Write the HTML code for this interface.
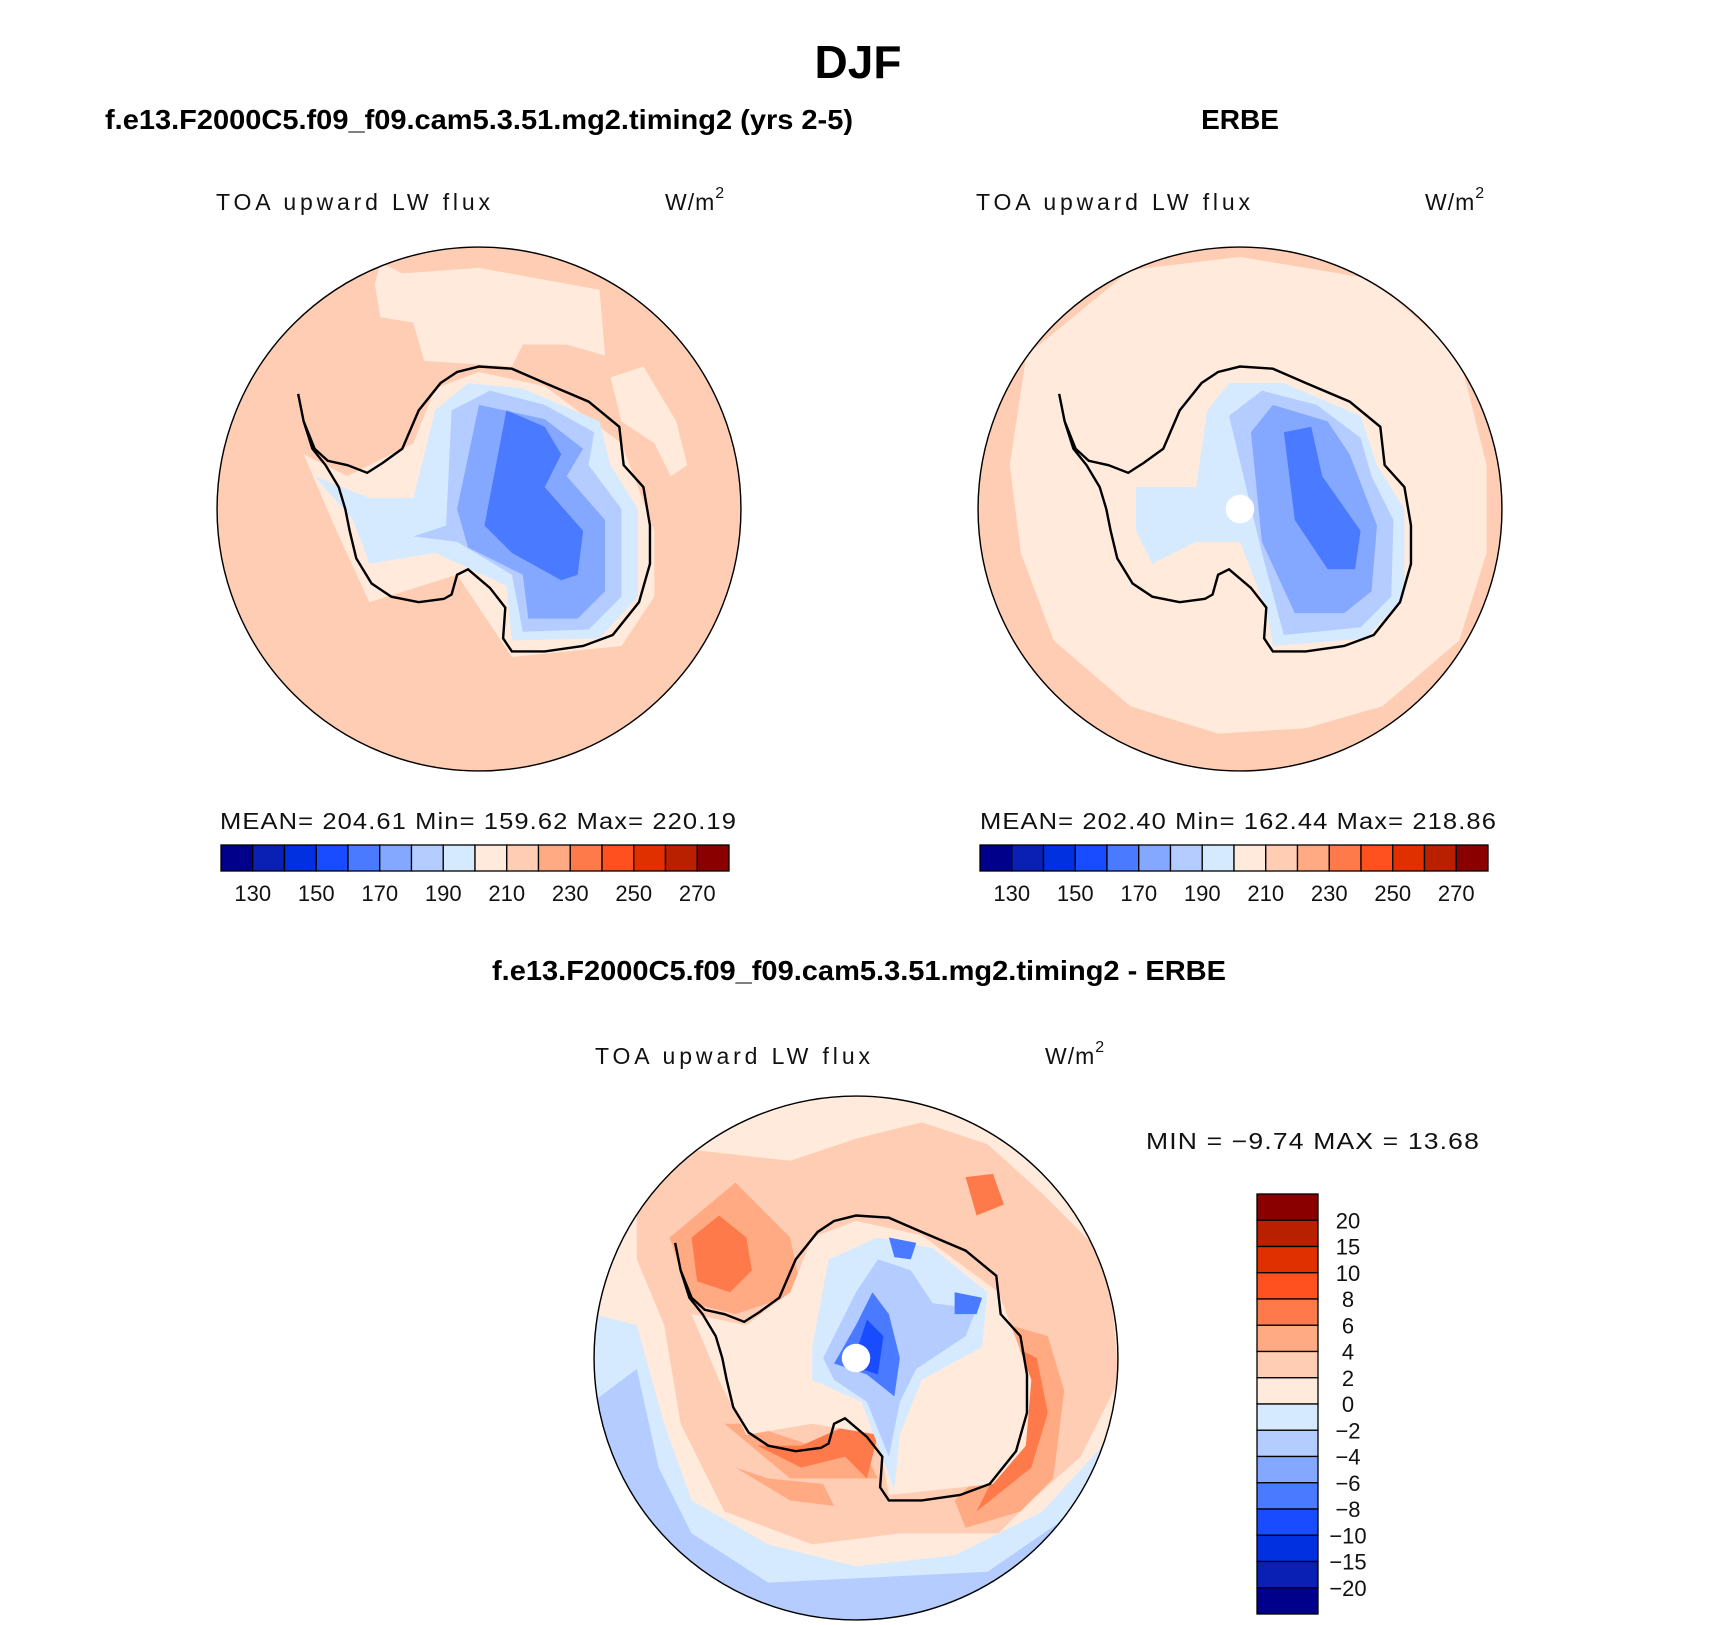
<!DOCTYPE html>
<html><head><meta charset="utf-8"><style>
html,body{margin:0;padding:0;background:#fff;}
svg{display:block;font-family:"Liberation Sans",sans-serif;}
.t{font-weight:bold;fill:#000;}
.s{fill:#111;font-size:23px;letter-spacing:1px;}
</style></head><body>
<svg id="fig" width="1710" height="1625" viewBox="0 0 1710 1625" xmlns="http://www.w3.org/2000/svg">
<defs>
<clipPath id="c1"><circle cx="0" cy="0" r="239"/></clipPath>
</defs>
<text class="t" x="858" y="78" font-size="46" text-anchor="middle">DJF</text>
<text class="t" x="105" y="129" font-size="28" textLength="748" lengthAdjust="spacingAndGlyphs">f.e13.F2000C5.f09_f09.cam5.3.51.mg2.timing2 (yrs 2-5)</text>
<text class="t" x="1240" y="129" font-size="28" text-anchor="middle">ERBE</text>
<text class="t" x="859" y="980" font-size="28" text-anchor="middle" textLength="734" lengthAdjust="spacingAndGlyphs">f.e13.F2000C5.f09_f09.cam5.3.51.mg2.timing2 - ERBE</text>

<text class="s" x="216" y="210" textLength="275">TOA upward LW flux</text>
<text class="s" x="665" y="210" font-size="26">W/m<tspan font-size="16" dy="-12">2</tspan></text>
<text class="s" x="976" y="210" textLength="275">TOA upward LW flux</text>
<text class="s" x="1425" y="210" font-size="26">W/m<tspan font-size="16" dy="-12">2</tspan></text>
<text class="s" x="595" y="1064" textLength="276">TOA upward LW flux</text>
<text class="s" x="1045" y="1064" font-size="26">W/m<tspan font-size="16" dy="-12">2</tspan></text>

<text class="s" x="220" y="829" font-size="21" textLength="517" lengthAdjust="spacingAndGlyphs">MEAN= 204.61   Min= 159.62   Max= 220.19</text>
<text class="s" x="980" y="829" font-size="21" textLength="517" lengthAdjust="spacingAndGlyphs">MEAN= 202.40   Min= 162.44   Max= 218.86</text>
<text class="s" x="1146" y="1149" font-size="21" textLength="334" lengthAdjust="spacingAndGlyphs">MIN =   −9.74 MAX =   13.68</text>

<g id="maps"></g>
<g id="bars"></g>
</svg>
<script>
const absColors=["#00008a","#0a1fb4","#0030e0","#1a4cff","#4a7aff","#84a8ff","#b4ccff","#d6eaff","#ffeadb","#ffcdb4","#ffaa82","#ff7a4a","#ff5020","#e03000","#b82000","#8a0000"];
const absLevels=[130,140,150,160,170,180,190,200,210,220,230,240,250,260,270];
const diffLevels=[20,15,10,8,6,4,2,0,-2,-4,-6,-8,-10,-15,-20];
const NS="http://www.w3.org/2000/svg";
function mk(t,a,p){const e=document.createElementNS(NS,t);for(const k in a)e.setAttribute(k,a[k]);p.appendChild(e);return e;}
const bars=document.getElementById('bars');
function hbar(x0,y0,w,h,name){
  const g=mk('g',{},bars);
  
  
  const bw=w/absColors.length;
  absColors.forEach((c,i)=>{const r=mk('rect',{x:x0+i*bw,y:y0,width:bw,height:h,fill:c,stroke:'#000','stroke-width':1.3},g);
    
    });
  absLevels.forEach((v,i)=>{if(i%2)return;const t=mk('text',{x:x0+(i+1)*bw,y:y0+h+30,'text-anchor':'middle','font-size':22,fill:'#111'},g);t.textContent=v;
    
    });
}
hbar(221,845,508,26,'model-colorbar');
hbar(980,845,508,26,'obs-colorbar');
(function(){
  const g=mk('g',{},bars);
  
  
  const x0=1257,y0=1194,w=61,h=420,bh=h/16;
  absColors.slice().reverse().forEach((c,i)=>{const r=mk('rect',{x:x0,y:y0+i*bh,width:w,height:bh,fill:c,stroke:'#000','stroke-width':1.3},g);
    
    });
  diffLevels.forEach((v,i)=>{const t=mk('text',{x:1348,y:y0+(i+1)*bh+8,'text-anchor':'middle','font-size':22,fill:'#111'},g);t.textContent=String(v).replace('-','−');
    
    });
})();

const coast=[[-165,-105],[-160,-80],[-150,-55],[-138,-44],[-120,-40],[-102,-33],[-88,-42],[-70,-55],[-55,-90],[-35,-115],[-20,-125],[0,-130],[30,-128],[60,-115],[100,-98],[128,-75],[132,-40],[150,-20],[156,15],[156,50],[146,85],[122,115],[95,125],[60,130],[30,130],[22,118],[24,90],[10,72],[-10,55],[-20,60],[-25,78],[-32,82],[-55,85],[-80,80],[-98,68],[-112,45],[-118,20],[-122,0],[-128,-20],[-140,-40],[-152,-55],[-160,-80]];
function poly(p){return 'M'+p.map(q=>q.join(',')).join('L')+'Z';}
function mapPanel(cx,cy,layers,name,pole){
  const g=mk('g',{transform:`translate(${cx},${cy}) scale(1.096)`},document.getElementById('maps'));
  
  
  const cg=mk('g',{'clip-path':'url(#c1)'},g);
  layers.forEach(l=>{const e=l[1]==='circle'?mk('circle',{cx:0,cy:0,r:240,fill:l[0]},cg):mk('path',{d:poly(l[1]),fill:l[0]},cg);
    
    });
  if(pole){const d=mk('circle',{cx:0,cy:0,r:13,fill:'#fff'},cg);
    
    }
  const c=mk('path',{d:poly(coast),fill:'none',stroke:'#000','stroke-width':2.2},g);
  
  
  const o=mk('circle',{cx:0,cy:0,r:239,fill:'none',stroke:'#000','stroke-width':1.3},g);
  
  
}
mapPanel(479,509,[
 ['#ffcdb4','circle'],
 ['#ffeadb',[[-90,-225],[-70,-215],[0,-220],[110,-200],[115,-140],[80,-150],[40,-150],[30,-130],[-50,-135],[-60,-170],[-90,-175],[-95,-205]]],
 ['#ffeadb',[[120,-120],[150,-130],[180,-80],[190,-40],[175,-30],[160,-60],[130,-80]]],
 ['#ffeadb',[[-160,-50],[-120,-30],[-60,-60],[-40,-110],[0,-125],[60,-112],[130,-60],[160,20],[160,80],[130,125],[30,135],[-20,60],[-100,85],[-130,20]]],
 ['#d6eaff',[[-150,-30],[-100,-10],[-60,-10],[-40,-90],[-10,-115],[40,-110],[110,-80],[120,-40],[145,0],[145,80],[110,118],[30,120],[25,70],[-40,40],[-100,50],[-115,10]]],
 ['#b4ccff',[[-60,25],[-30,15],[-25,-90],[10,-108],[60,-95],[105,-70],[100,-40],[130,0],[130,80],[100,110],[40,112],[30,60],[-20,30]]],
 ['#84a8ff',[[-20,0],[0,-95],[60,-82],[95,-55],[80,-30],[115,10],[115,75],[90,100],[45,100],[40,60],[-10,35]]],
 ['#4a7aff',[[5,15],[25,-90],[60,-75],[75,-50],[60,-20],[95,20],[90,60],[75,65],[30,40]]]
],'model-map',false);
mapPanel(1240,509,[
 ['#ffcdb4','circle'],
 ['#ffeadb',[[-195,-140],[-100,-218],[0,-230],[120,-210],[200,-140],[225,-40],[225,40],[200,120],[130,180],[60,200],[-20,205],[-100,180],[-170,120],[-200,40],[-210,-40]]],
 ['#d6eaff',[[-95,-20],[-40,-20],[-30,-90],[-10,-115],[40,-115],[110,-85],[125,-40],[150,0],[150,80],[115,118],[30,125],[25,95],[0,30],[-40,30],[-80,50],[-95,20]]],
 ['#b4ccff',[[-10,-85],[20,-108],[70,-95],[110,-65],[120,-30],[140,10],[138,80],[110,108],[40,115],[20,40]]],
 ['#84a8ff',[[10,-70],[30,-95],[80,-80],[100,-50],[125,15],[120,75],[95,95],[50,95],[20,30]]],
 ['#4a7aff',[[40,-70],[65,-75],[75,-30],[110,20],[105,55],[80,55],[50,10]]]
],'obs-map',true);
mapPanel(856,1358,[
 ['#ffeadb','circle'],
 ['#ffcdb4',[[-200,-140],[-150,-190],[-60,-180],[0,-200],[60,-215],[120,-195],[170,-150],[230,-90],[240,20],[205,90],[160,130],[130,160],[40,160],[-40,170],[-120,140],[-160,60],[-175,-30],[-200,-90]]],
 ['#d6eaff',[[-240,-40],[-200,-30],[-175,60],[-150,130],[-80,170],[0,190],[90,180],[170,140],[225,80],[240,60],[240,240],[-240,240]]],
 ['#b4ccff',[[-240,40],[-200,10],[-180,100],[-150,160],[-80,205],[20,200],[120,195],[200,140],[240,120],[240,240],[-240,240]]],
 ['#ffaa82',[[-170,-110],[-110,-160],[-60,-110],[-50,-60],[-110,-40],[-150,-50]]],
 ['#ff7a4a',[[-150,-110],[-125,-130],[-100,-110],[-95,-80],[-115,-60],[-145,-70]]],
 ['#ff7a4a',[[100,-165],[125,-168],[135,-140],[110,-130]]],
 ['#ffaa82',[[140,-30],[175,-20],[190,30],[180,110],[150,140],[100,155],[90,130],[150,70]]],
 ['#ff7a4a',[[145,-10],[165,0],[175,50],[160,100],[110,140],[130,100],[155,50]]],
 ['#ffaa82',[[-120,60],[-60,110],[20,110],[0,70],[-40,80],[-100,60]]],
 ['#ffaa82',[[-110,100],[-60,130],[-20,135],[-30,115],[-80,110]]],
 ['#ff7a4a',[[-90,80],[-50,100],[-10,90],[10,110],[20,70],[-5,60],[-50,80]]],
 ['#ffeadb',[[-150,-40],[-100,-30],[-60,-60],[-40,-110],[0,-125],[60,-112],[130,-60],[160,20],[155,80],[125,115],[30,125],[20,70],[-40,60],[-100,70],[-125,20]]],
 ['#d6eaff',[[-40,-10],[-25,-90],[20,-110],[70,-100],[120,-60],[115,-10],[60,20],[40,70],[35,120],[20,80],[5,40],[-40,20]]],
 ['#b4ccff',[[-30,0],[0,-60],[20,-90],[50,-80],[70,-50],[110,-45],[100,-20],[55,10],[40,40],[30,90],[10,40],[-20,20]]],
 ['#4a7aff',[[-20,5],[0,-30],[15,-60],[30,-40],[40,0],[35,35],[10,15]]],
 ['#4a7aff',[[90,-60],[115,-55],[110,-40],[90,-40]]],
 ['#4a7aff',[[30,-110],[55,-105],[50,-90],[35,-92]]],
 ['#1a4cff',[[0,-5],[10,-35],[25,-20],[20,15],[5,10]]]
],'diff-map',true);
</script>
</body></html>
